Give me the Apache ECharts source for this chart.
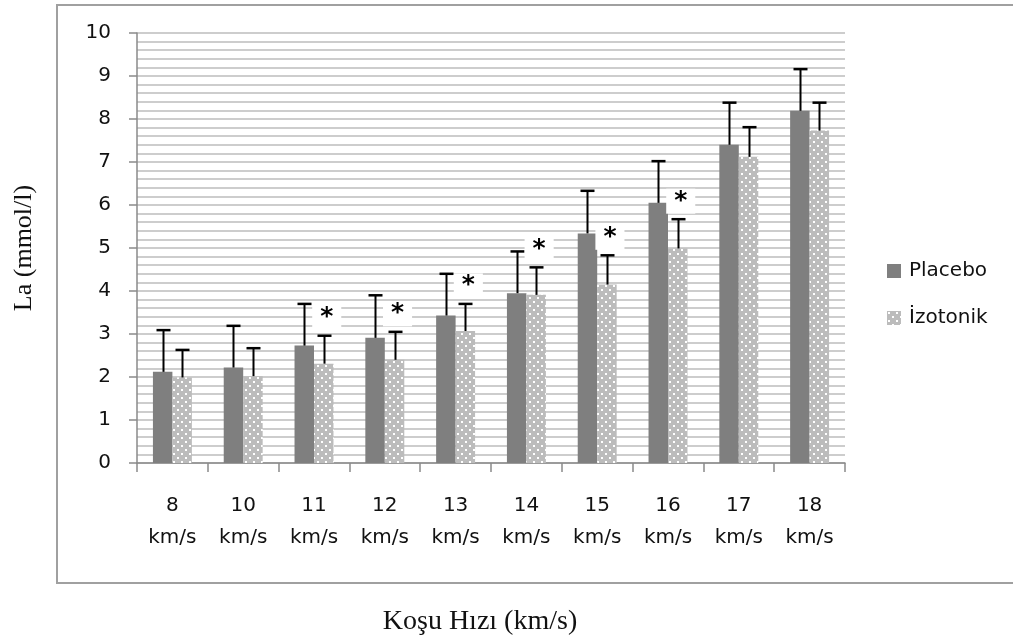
<!DOCTYPE html>
<html><head><meta charset="utf-8">
<script src="https://cdn.jsdelivr.net/npm/echarts@6/dist/echarts.min.js"></script>
<style>html,body{margin:0;padding:0;background:#fff}#c{width:1013px;height:641px}</style>
</head><body><div id="c"></div>
<script>
// ---- data ----
const speeds = ['8', '10', '11', '12', '13', '14', '15', '16', '17', '18'];
const unit = 'km/s';
const placebo = [2.12, 2.22, 2.73, 2.91, 3.43, 3.95, 5.34, 6.05, 7.40, 8.19];
const placeboErr = [0.97, 0.97, 0.97, 0.99, 0.97, 0.97, 0.99, 0.97, 0.98, 0.97];
const izotonik = [1.99, 2.02, 2.31, 2.40, 3.07, 3.91, 4.15, 4.99, 7.12, 7.73];
const izotonikErr = [0.64, 0.65, 0.65, 0.65, 0.63, 0.64, 0.68, 0.68, 0.69, 0.65];
const significant = [false, false, true, true, true, true, true, true, false, false];
const yTicks = [0, 1, 2, 3, 4, 5, 6, 7, 8, 9, 10];
const seriesNames = ['Placebo', 'İzotonik'];
const yTitle = 'La (mmol/l)';
const xTitle = 'Koşu Hızı (km/s)';

// ---- build ----
const categories = speeds.map(s => s + '\n' + unit);

function dotPattern() {
  const c = document.createElement('canvas');
  c.width = 8; c.height = 8;
  const g = c.getContext('2d');
  g.fillStyle = '#bcbcbc'; g.fillRect(0, 0, 8, 8);
  g.fillStyle = '#ffffff';
  g.fillRect(1, 1, 2, 2);
  g.fillRect(5, 5, 2, 2);
  return c;
}
const izoFill = { image: dotPattern(), repeat: 'repeat' };

const BAR_FRAC = 0.275;
function renderErr(params, api) {
  const i = api.value(0), base = api.value(1), e = api.value(2), side = api.value(3);
  const band = api.size([1, 0])[0];
  const bw = band * BAR_FRAC;
  const b = api.coord([i, base]);
  const t = api.coord([i, base + e]);
  const x = Math.round(b[0] + side * bw / 2) + 0.5;
  const cap = 7;
  return {
    type: 'group', children: [
      { type: 'line', shape: { x1: x, y1: b[1], x2: x, y2: t[1] }, style: { stroke: '#000', lineWidth: 2 } },
      { type: 'line', shape: { x1: x - cap, y1: t[1], x2: x + cap, y2: t[1] }, style: { stroke: '#000', lineWidth: 2.5 } }
    ]
  };
}
function renderStar(params, api) {
  const i = api.value(0), top = api.value(1);
  const band = api.size([1, 0])[0];
  const bw = band * BAR_FRAC;
  const t = api.coord([i, top]);
  return {
    type: 'text', x: t[0] + bw / 2 + 3, y: t[1] - 18,
    style: {
      text: '*', font: 'bold 25px "DejaVu Sans"', fill: '#000',
      align: 'center', verticalAlign: 'middle',
      backgroundColor: '#fff', padding: [0, 8, 0, 8]
    }
  };
}

const errData = [];
placebo.forEach((v, i) => errData.push([i, v, placeboErr[i], -1]));
izotonik.forEach((v, i) => errData.push([i, v, izotonikErr[i], 1]));
const starData = [];
significant.forEach((s, i) => { if (s) starData.push([i, izotonik[i] + izotonikErr[i]]); });

const chart = echarts.init(document.getElementById('c'), null, { renderer: 'canvas' });
chart.setOption({
  animation: false,
  backgroundColor: '#fff',
  textStyle: { fontFamily: 'DejaVu Sans' },
  grid: { left: 137, right: 168, top: 33, bottom: 178, containLabel: false, outerBoundsMode: 'none' },
  legend: {
    data: seriesNames, orient: 'vertical', left: 882, top: 256,
    itemWidth: 14, itemHeight: 14, itemGap: 27, icon: 'rect',
    textStyle: { fontFamily: 'DejaVu Sans', fontSize: 20, color: '#111', padding: [0, 0, 0, 3] }
  },
  xAxis: {
    type: 'category', data: categories,
    axisLine: { lineStyle: { color: '#8a8a8a', width: 1.5 } },
    axisTick: { show: true, length: 9, lineStyle: { color: '#8a8a8a', width: 1.5 } },
    axisLabel: { fontFamily: 'DejaVu Sans', fontSize: 20, color: '#111', lineHeight: 32, margin: 27, interval: 0 }
  },
  yAxis: {
    type: 'value', min: yTicks[0], max: yTicks[yTicks.length - 1], interval: 1,
    name: yTitle, nameLocation: 'middle', nameRotate: 90, nameGap: 100,
    nameTextStyle: { fontFamily: 'Liberation Serif', fontSize: 26, color: '#111' },
    axisLine: { show: true, lineStyle: { color: '#8a8a8a', width: 1.5 } },
    axisTick: { show: true, length: 8, lineStyle: { color: '#8a8a8a', width: 1.5 } },
    axisLabel: { fontFamily: 'DejaVu Sans', fontSize: 20, color: '#111', margin: 26 },
    splitLine: { show: true, lineStyle: { color: '#bdbdbd', width: 1.5 } },
    minorTick: { show: false, splitNumber: 5 },
    minorSplitLine: { show: true, lineStyle: { color: '#bdbdbd', width: 1.5 } }
  },
  graphic: [
    { type: 'rect', shape: { x: 57, y: 5, width: 1000, height: 578 }, style: { fill: null, stroke: '#a0a0a0', lineWidth: 2 }, z: 0 },
    { type: 'text', x: 480, y: 622, style: { text: xTitle, font: '28px "Liberation Serif"', fill: '#111', align: 'center', verticalAlign: 'middle' } }
  ],
  series: [
    { name: seriesNames[0], type: 'bar', data: placebo, barWidth: (BAR_FRAC * 100) + '%', barGap: '0%', itemStyle: { color: '#7f7f7f' } },
    { name: seriesNames[1], type: 'bar', data: izotonik, barWidth: (BAR_FRAC * 100) + '%', barGap: '0%', itemStyle: { color: izoFill } },
    { type: 'custom', renderItem: renderErr, data: errData, encode: { x: 0, y: 1 }, z: 5, silent: true },
    { type: 'custom', renderItem: renderStar, data: starData, encode: { x: 0, y: 1 }, z: 6, silent: true }
  ]
});
</script></body></html>
